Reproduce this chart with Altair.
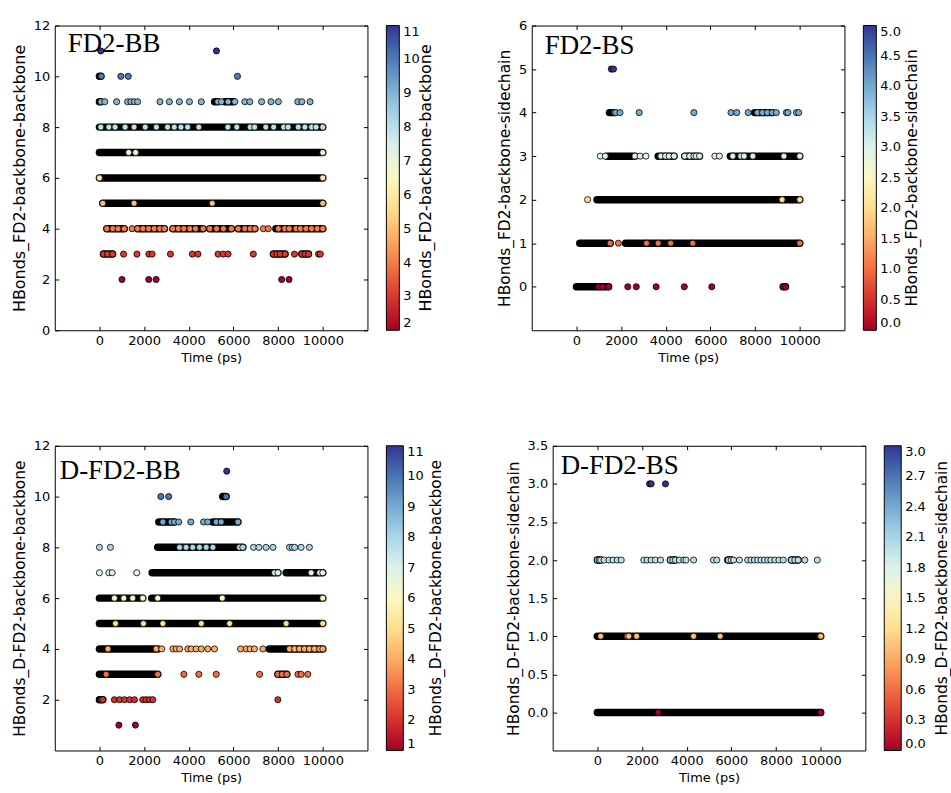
import altair as alt
import pandas as pd

# ---------------------------------------------------------------- data
TIME_TICKS = [0, 2000, 4000, 6000, 8000, 10000]
X_DOMAIN = [-2000, 12000]

# Panel A: FD2-BB  (row value -> times in ps of individually visible markers)
FD2_BB_POINTS = {
    11: [60, 5240],
    10: [80, 960, 1290, 6180],
    9: [70, 240, 770, 1260, 1410, 1560, 1710, 2710, 3130, 3580, 4030, 4560, 5300,
        5460, 5760, 6060, 6510, 6730, 7260, 7680, 8010, 8880, 9060, 9430],
    8: [60, 420, 700, 1150, 1550, 2050, 2550, 3050, 3350, 3650, 3950, 4450, 5750,
        6150, 6750, 6950, 7450, 7800, 8250, 8450, 8900, 9200, 9500, 9700, 10000],
    7: [1310, 1620, 10000],
    6: [0, 10000],
    5: [150, 1550, 5050, 10000],
    4: [330, 600, 830, 1110, 1460, 1710, 1950, 2200, 2450, 2700, 2910, 3290, 3530,
        3780, 4050, 4300, 4640, 4940, 5250, 5550, 5910, 6210, 6510, 6750, 6960,
        7340, 7560, 8010, 8300, 8500, 8800, 9000, 9250, 9500, 9750, 10000],
    3: [180, 360, 590, 1080, 1680, 2210, 2360, 3180, 4160, 4410, 5310, 5540, 5760,
        6890, 7790, 7940, 8090, 8310, 8730, 9060, 9210, 9360, 9810, 9890],
    2: [1010, 2210, 2540, 8160, 8490],
}
# runs of overlapping markers that render as a solid black band (start, end in ps)
FD2_BB_BANDS = {
    10: [(0, 60)],
    9: [(0, 60), (5160, 5300), (5610, 6000)],
    8: [(0, 10000)],
    7: [(0, 10000)],
    6: [(0, 10000)],
    5: [(150, 10000)],
    4: [(330, 1110), (1710, 2910), (3290, 4640), (4940, 5910), (6210, 6960), (7900, 10000)],
    3: [(180, 590), (7790, 8310), (9060, 9360)],
}

# Panel B: FD2-BS
FD2_BS_POINTS = {
    5: [1560, 1660],
    4: [1700, 1760, 1950, 2810, 5260, 6920, 7180, 7690, 8100, 8330, 8550, 8770,
        8950, 9400, 9470, 9850, 9950],
    3: [1070, 1290, 2620, 2850, 3110, 3780, 3990, 4150, 4370, 4850, 5070, 5260,
        5360, 5510, 6200, 6400, 7000, 7360, 7510, 7900, 9290, 10000],
    2: [500, 9210, 10000],
    1: [1510, 1880, 3140, 3660, 4220, 5210, 10000],
    0: [990, 1170, 1440, 2300, 2680, 3570, 4830, 6060, 9260, 9360],
}
FD2_BS_BANDS = {
    4: [(1480, 1700), (7980, 8770)],
    3: [(1360, 2620), (3660, 4370), (4850, 5510), (6890, 10000)],
    2: [(920, 10000)],
    1: [(150, 1510), (2200, 10000)],
    0: [(0, 1440), (9260, 9360)],
}

# Panel C: D-FD2-BB
DFD2_BB_POINTS = {
    11: [5700],
    10: [2750, 3100, 5670],
    9: [2840, 3210, 3360, 3550, 4090, 4660, 4850, 5230, 5450, 6200],
    8: [0, 490, 3590, 3880, 4180, 4480, 4780, 5080, 6270, 6420, 6900, 7140, 7460,
        7770, 8510, 8630, 8740, 9030, 9400],
    7: [0, 420, 570, 1670, 7840, 7990, 9480, 9860, 10000],
    6: [670, 1090, 1490, 1940, 2610, 5500, 10000],
    5: [720, 1970, 2840, 4560, 5830, 8360, 10000],
    4: [380, 2540, 2790, 3290, 3440, 3590, 3960, 4110, 4330, 4560, 4850, 5150, 6320,
        6570, 6750, 6940, 7320, 8510, 8740, 8960, 9180, 9400, 9630, 9860, 10000],
    3: [300, 2610, 3780, 4450, 5230, 7170, 7990, 8180, 8390, 8890, 9030, 9330],
    2: [80, 150, 670, 900, 1120, 1350, 1570, 1940, 2090, 2240, 2390, 7990],
    1: [870, 1610],
}
DFD2_BB_BANDS = {
    10: [(5520, 5670)],
    9: [(2660, 3360), (5080, 6200)],
    8: [(2610, 6420)],
    7: [(2360, 7990), (8360, 10000)],
    6: [(0, 1940), (2340, 10000)],
    5: [(0, 10000)],
    4: [(0, 2610), (7610, 10000)],
    3: [(0, 2610), (7990, 8390)],
    2: [(0, 150)],
}

# Panel D: D-FD2-BS
DFD2_BS_POINTS = {
    3: [2340, 2410, 3050],
    2: [0, 80, 150, 300, 520, 700, 890, 1070, 2080, 2230, 2410, 2600, 2830, 3270,
        3380, 3490, 3670, 3870, 3970, 4310, 5200, 5350, 5870, 5990, 6100, 6360,
        6730, 6880, 7030, 7180, 7330, 7480, 7630, 7770, 7950, 8130, 8320, 8690,
        8840, 8990, 9290, 9850],
    1: [150, 1340, 1410, 1760, 4310, 5500, 10000],
    0: [2720, 10000],
}
DFD2_BS_BANDS = {
    2: [(0, 150), (3270, 3490), (5840, 6000), (8690, 8990)],
    1: [(0, 10000)],
    0: [(0, 10000)],
}

FONT = "DejaVu Sans"
W, H = 314, 306


def points_df(d):
    rows = [(t, n) for n, ts in d.items() for t in ts]
    return pd.DataFrame(rows, columns=["t", "n"]).sort_values("t", kind="stable")


def bands_df(d):
    rows = [(a, b, n) for n, runs in d.items() for a, b in runs]
    return pd.DataFrame(rows, columns=["t", "t2", "n"])


def panel(label, ytitle, pts, bands, ydom, yticks, yfmt, cdom, cticks, cfmt,
          lx, ly, bar_w, ctitle_x, ytitle_size):
    xs = alt.Scale(domain=X_DOMAIN, nice=False, zero=False)
    ys = alt.Scale(domain=ydom, nice=False, zero=False)
    bottom = alt.Axis(orient="bottom", values=TIME_TICKS, format="d", title="Time (ps)",
                      offset=-4, tickSize=4, tickColor="black", domain=False, grid=False,
                      labelFontSize=13, labelPadding=4, titleFontSize=13,
                      titlePadding=4)
    left = alt.Axis(orient="left", values=yticks, format=yfmt, title=ytitle,
                    offset=-4, tickSize=4, tickColor="black", domain=False, grid=False,
                    labelFontSize=13, labelPadding=5, titleFontSize=ytitle_size,
                    titlePadding=6)
    top = alt.Axis(orient="top", values=TIME_TICKS, labels=False, title=None,
                   offset=-4, tickSize=4, tickColor="black", domain=False, grid=False)
    right = alt.Axis(orient="right", values=yticks, labels=False, title=None,
                     offset=-4, tickSize=4, tickColor="black", domain=False, grid=False)
    legend = alt.Legend(title=None, orient="none", legendX=W + 19, legendY=0,
                        direction="vertical",
                        gradientLength=H, gradientThickness=bar_w,
                        gradientStrokeColor="black", gradientStrokeWidth=1,
                        values=cticks, format=cfmt, labelFontSize=13, labelOffset=4,
                        labelBaseline="middle", labelOverlap=False)
    b = alt.Chart(bands_df(bands)).mark_rule(
        color="black", strokeWidth=7.5, strokeCap="round"
    ).encode(
        x=alt.X("t:Q", scale=xs, axis=bottom),
        x2="t2:Q",
        y=alt.Y("n:Q", scale=ys, axis=left),
    )
    p = alt.Chart(points_df(pts)).mark_circle(
        size=38, stroke="black", strokeWidth=0.8, opacity=1
    ).encode(
        x=alt.X("t:Q", scale=xs, axis=top),
        y=alt.Y("n:Q", scale=ys, axis=right),
        color=alt.Color("n:Q", scale=alt.Scale(scheme="redyellowblue", domain=cdom),
                        legend=legend),
    )
    t = alt.Chart(pd.DataFrame({"s": [label]})).mark_text(
        font="Liberation Serif", fontSize=27, align="left", baseline="middle",
        color="black"
    ).encode(x=alt.value(lx), y=alt.value(ly), text="s:N")
    # colour-bar label, rotated to read bottom-to-top as in the original
    ct = alt.Chart(pd.DataFrame({"s": [ytitle]})).mark_text(
        font=FONT, fontSize=ytitle_size, align="center", baseline="middle",
        angle=270, color="black"
    ).encode(x=alt.value(W + ctitle_x), y=alt.value(H / 2), text="s:N")
    return alt.layer(b, p, t, ct).resolve_axis(x="independent", y="independent").properties(
        width=W, height=H)


pA = panel("FD2-BB", "HBonds_FD2-backbone-backbone", FD2_BB_POINTS, FD2_BB_BANDS,
           [0, 12], [0, 2, 4, 6, 8, 10, 12], "d", [2, 11], list(range(2, 12)), "d",
           13, 19, 13, 59, 16)
pB = panel("FD2-BS", "HBonds_FD2-backbone-sidechain", FD2_BS_POINTS, FD2_BS_BANDS,
           [-1, 6], [0, 1, 2, 3, 4, 5, 6], "d", [0, 5],
           [0, 0.5, 1, 1.5, 2, 2.5, 3, 3.5, 4, 4.5, 5], ".1f", 13, 21, 13, 68, 15.5)
pC = panel("D-FD2-BB", "HBonds_D-FD2-backbone-backbone", DFD2_BB_POINTS, DFD2_BB_BANDS,
           [0, 12], [2, 4, 6, 8, 10, 12], "d", [1, 11], list(range(1, 12)), "d",
           5, 25, 17, 69, 15.5)
pD = panel("D-FD2-BS", "HBonds_D-FD2-backbone-sidechain", DFD2_BS_POINTS, DFD2_BS_BANDS,
           [-0.5, 3.5], [0, 0.5, 1, 1.5, 2, 2.5, 3, 3.5], ".1f", [0, 3],
           [0, 0.3, 0.6, 0.9, 1.2, 1.5, 1.8, 2.1, 2.4, 2.7, 3.0], ".1f", 8, 20, 17, 77, 15.5)

row1 = alt.hconcat(pA, pB, spacing=62).resolve_scale(
    x="independent", y="independent", color="independent").resolve_legend(color="independent")
row2 = alt.hconcat(pC, pD, spacing=60).resolve_scale(
    x="independent", y="independent", color="independent").resolve_legend(color="independent")

chart = alt.vconcat(row1, row2, spacing=74).resolve_scale(
    x="independent", y="independent", color="independent"
).resolve_legend(color="independent").properties(
    padding={"left": 10, "top": 17, "right": 0, "bottom": 0}, background="white"
).configure_view(stroke="black", strokeWidth=1).configure_axis(
    labelFont=FONT, titleFont=FONT, labelColor="black", titleColor="black",
    titleFontWeight="normal"
).configure_legend(
    labelFont=FONT, titleFont=FONT, labelColor="black", titleColor="black",
    titleFontWeight="normal"
)

chart.save("out.html", embed_options={"renderer": "svg", "actions": False})
